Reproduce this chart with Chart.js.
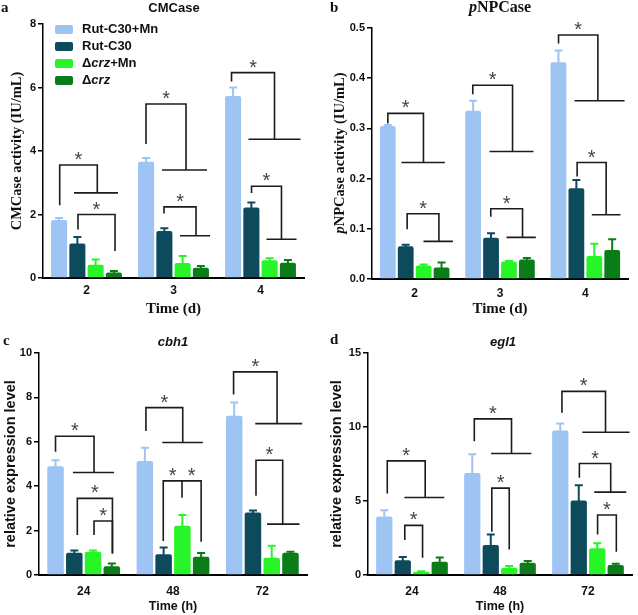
<!DOCTYPE html>
<html><head><meta charset="utf-8">
<script src="https://cdn.jsdelivr.net/npm/chart.js@4/dist/chart.umd.min.js"></script>
<style>
html,body{margin:0;padding:0;background:#fff;}
#wrap{position:relative;width:638px;height:615px;overflow:hidden;}
canvas{position:absolute;}
</style></head><body>
<div id="wrap">
<canvas id="ca" width="319" height="318" style="left:0;top:0"></canvas>
<canvas id="cb" width="319" height="318" style="left:319px;top:0"></canvas>
<canvas id="cc" width="319" height="297" style="left:0;top:318px"></canvas>
<canvas id="cd" width="319" height="297" style="left:319px;top:318px"></canvas>
</div>
<script>
// ---------- data ----------
const DAYS = ['2', '3', '4'];
const HOURS = ['24', '48', '72'];
const SERIES = ['Rut-C30+Mn', 'Rut-C30', 'Δcrz+Mn', 'Δcrz'];

// (a) CMCase activity (IU/mL)
const CMC_RUT_MN = [1.83, 3.66, 5.73];
const CMC_RUT = [1.09, 1.48, 2.22];
const CMC_CRZ_MN = [0.42, 0.47, 0.56];
const CMC_CRZ = [0.17, 0.32, 0.48];
const CMC_RUT_MN_SD = [0.06, 0.12, 0.27];
const CMC_RUT_SD = [0.20, 0.09, 0.16];
const CMC_CRZ_MN_SD = [0.16, 0.22, 0.06];
const CMC_CRZ_SD = [0.05, 0.06, 0.09];

// (b) pNPCase activity (IU/mL)
const PNP_RUT_MN = [0.305, 0.335, 0.432];
const PNP_RUT = [0.065, 0.082, 0.181];
const PNP_CRZ_MN = [0.027, 0.035, 0.046];
const PNP_CRZ = [0.023, 0.039, 0.058];
const PNP_RUT_MN_SD = [0.002, 0.020, 0.023];
const PNP_RUT_SD = [0.003, 0.009, 0.016];
const PNP_CRZ_MN_SD = [0.002, 0.001, 0.024];
const PNP_CRZ_SD = [0.010, 0.003, 0.021];

// (c) cbh1 relative expression
const CBH_RUT_MN = [4.90, 5.14, 7.17];
const CBH_RUT = [1.00, 0.93, 2.82];
const CBH_CRZ_MN = [1.05, 2.22, 0.78];
const CBH_CRZ = [0.39, 0.82, 1.00];
const CBH_RUT_MN_SD = [0.27, 0.59, 0.60];
const CBH_RUT_SD = [0.10, 0.31, 0.08];
const CBH_CRZ_MN_SD = [0.05, 0.48, 0.54];
const CBH_CRZ_SD = [0.13, 0.17, 0.05];

// (d) egl1 relative expression
const EGL_RUT_MN = [3.96, 6.90, 9.76];
const EGL_RUT = [0.99, 2.02, 5.04];
const EGL_CRZ_MN = [0.22, 0.49, 1.80];
const EGL_CRZ = [0.90, 0.83, 0.67];
const EGL_RUT_MN_SD = [0.42, 1.26, 0.47];
const EGL_RUT_SD = [0.22, 0.72, 1.03];
const EGL_CRZ_MN_SD = [0.03, 0.11, 0.34];
const EGL_CRZ_SD = [0.29, 0.11, 0.09];

// significance brackets, in data units: x = fractional category index,
// y = [left leg bottom, top, right leg bottom]
const SIG_A = [
  {x: [-0.308, 0.124], y: [2.29, 3.56, 2.68], line: [-0.144, 0.362]},
  {x: [-0.098, 0.328], y: [1.53, 2.00, 0.85]},
  {x: [0.684, 1.144], y: [4.22, 5.48, 3.40], line: [0.868, 1.385]},
  {x: [0.891, 1.259], y: [2.03, 2.24, 1.33], line: [1.075, 1.420]},
  {x: [1.667, 2.161], y: [6.19, 6.47, 4.37], line: [1.862, 2.460]},
  {x: [1.897, 2.241], y: [2.68, 2.89, 1.22], line: [2.069, 2.414]}
];
const SIG_B = [
  {x: [-0.314, 0.103], y: [0.310, 0.330, 0.232], line: [-0.155, 0.354]},
  {x: [-0.088, 0.284], y: [0.099, 0.130, 0.075], line: [0.103, 0.448]},
  {x: [0.681, 1.147], y: [0.368, 0.386, 0.254], line: [0.877, 1.393]},
  {x: [0.892, 1.264], y: [0.124, 0.140, 0.083], line: [1.076, 1.420]},
  {x: [1.686, 2.147], y: [0.469, 0.486, 0.355], line: [1.873, 2.460]},
  {x: [1.904, 2.244], y: [0.204, 0.232, 0.128], line: [2.076, 2.412]}
];
const SIG_C = [
  {x: [-0.315, 0.116], y: [5.55, 6.25, 4.62], line: [-0.120, 0.340]},
  {x: [-0.071, 0.322], y: [1.80, 3.45, 0.97]},
  {x: [0.116, 0.322], y: [1.80, 2.43, 0.97]},
  {x: [0.697, 1.109], y: [6.49, 7.54, 5.97], line: [0.880, 1.334]},
  {x: [0.891, 1.315], y: [1.53, 4.24, 1.50], mid: [1.101, 3.48]},
  {x: [1.678, 2.165], y: [8.13, 9.15, 6.82], line: [1.921, 2.446]},
  {x: [1.929, 2.228], y: [3.57, 5.17, 2.29], line: [2.053, 2.416]}
];
const SIG_D = [
  {x: [-0.281, 0.150], y: [5.51, 7.71, 5.24], line: [-0.086, 0.367]},
  {x: [-0.082, 0.120], y: [2.36, 3.35, 1.17]},
  {x: [0.708, 1.131], y: [9.04, 10.55, 8.21], line: [0.899, 1.356]},
  {x: [0.907, 1.105], y: [2.92, 5.87, 1.73]},
  {x: [1.704, 2.199], y: [10.97, 12.41, 9.65], line: [1.936, 2.472]},
  {x: [1.902, 2.258], y: [6.57, 7.53, 5.60], line: [2.071, 2.435]},
  {x: [2.109, 2.322], y: [2.74, 4.05, 1.57]}
];

// ---------- styling ----------
const COLORS = ['#9dc4f2', '#0d4a5b', '#27f527', '#0b7d18'];
const SANS = '"Liberation Sans", Arial, sans-serif';
const SERIF = '"Liberation Serif", "Times New Roman", serif';

function drawRich(ctx, parts, x, y, size, family, align, rot, color) {
  ctx.save();
  ctx.translate(x, y);
  if (rot) ctx.rotate(rot);
  ctx.textBaseline = 'middle';
  ctx.textAlign = 'left';
  ctx.fillStyle = color || '#111';
  let total = 0;
  const ws = parts.map(p => { ctx.font = `${p.s} ${size}px ${family}`; const w = ctx.measureText(p.t).width; total += w; return w; });
  let cx = align === 'center' ? -total / 2 : 0;
  parts.forEach((p, i) => { ctx.font = `${p.s} ${size}px ${family}`; ctx.fillText(p.t, cx, 0); cx += ws[i]; });
  ctx.restore();
}
function labelParts(label) {
  return label.split(/(crz)/).filter(Boolean).map(t => ({t, s: t === 'crz' ? 'italic bold' : 'bold'}));
}

function extras(o) {
  return {
    id: 'extras',
    afterDatasetsDraw(chart) {
      const ctx = chart.ctx, xs = chart.scales.x, ys = chart.scales.y;
      ctx.save();
      // error bars (upper whisker)
      chart.data.datasets.forEach((ds, di) => {
        const meta = chart.getDatasetMeta(di);
        meta.data.forEach((bar, i) => {
          const top = ys.getPixelForValue(ds.data[i] + ds.err[i]);
          ctx.strokeStyle = ds.backgroundColor;
          ctx.lineWidth = 2;
          ctx.beginPath();
          ctx.moveTo(bar.x, bar.y + 1); ctx.lineTo(bar.x, top);
          ctx.moveTo(bar.x - 4, top); ctx.lineTo(bar.x + 4, top);
          ctx.stroke();
        });
      });
      // brackets
      ctx.strokeStyle = '#1c1c1c';
      ctx.lineWidth = 1.6;
      ctx.font = `20px ${SANS}`;
      const m = ctx.measureText('*');
      const starOff = (m.actualBoundingBoxAscent - m.actualBoundingBoxDescent) / 2;
      o.sig.forEach(b => {
        const xl = xs.getPixelForValue(b.x[0]), xr = xs.getPixelForValue(b.x[1]);
        const yl = ys.getPixelForValue(b.y[0]), yt = ys.getPixelForValue(b.y[1]), yr = ys.getPixelForValue(b.y[2]);
        ctx.beginPath();
        ctx.moveTo(xl, yl); ctx.lineTo(xl, yt); ctx.lineTo(xr, yt); ctx.lineTo(xr, yr);
        if (b.line) { ctx.moveTo(xs.getPixelForValue(b.line[0]), yr); ctx.lineTo(xs.getPixelForValue(b.line[1]), yr); }
        const stars = [];
        if (b.mid) {
          const xm = xs.getPixelForValue(b.mid[0]);
          ctx.moveTo(xm, yt); ctx.lineTo(xm, ys.getPixelForValue(b.mid[1]));
          stars.push((xl + xm) / 2, (xm + xr) / 2);
        } else stars.push((xl + xr) / 2);
        ctx.stroke();
        ctx.fillStyle = '#444';
        ctx.textAlign = 'center';
        ctx.textBaseline = 'alphabetic';
        stars.forEach(sx => ctx.fillText('*', sx, yt - 9 + starOff));
      });
      ctx.restore();
    },
    afterDraw(chart) {
      const ctx = chart.ctx;
      drawRich(ctx, [{t: o.letter, s: 'bold'}], o.letterPos[0], o.letterPos[1], 15, SERIF, 'left');
      drawRich(ctx, o.title, o.titlePos[0], o.titlePos[1], o.titleSize, o.titleFamily, 'center');
      if (o.richY) drawRich(ctx, o.richY.parts, o.richY.pos[0], o.richY.pos[1], 14.5, SERIF, 'center', -Math.PI / 2);
      if (o.legend) {
        SERIES.forEach((lab, i) => {
          const cy = 29.5 + i * 17;
          ctx.fillStyle = COLORS[i];
          ctx.beginPath();
          ctx.roundRect(55, cy - 4.5, 18, 9, 2);
          ctx.fill();
          drawRich(ctx, labelParts(lab), 82, cy, 13, SANS, 'left');
        });
      }
    }
  };
}

function build(id, o) {
  const datasets = o.values.map((vals, i) => ({
    label: SERIES[i], data: vals, err: o.errors[i],
    backgroundColor: COLORS[i], borderWidth: 0,
    borderRadius: {topLeft: 2, topRight: 2, bottomLeft: 0, bottomRight: 0},
    borderSkipped: 'bottom',
    categoryPercentage: 0.84, barPercentage: 0.88
  }));
  return new Chart(document.getElementById(id), {
    type: 'bar',
    data: {labels: o.labels, datasets},
    options: {
      responsive: false, animation: false,
      layout: {padding: {left: 0, top: o.padTop, right: o.padRight, bottom: 0}},
      plugins: {legend: {display: false}, tooltip: {enabled: false}, title: {display: false}},
      scales: {
        x: {
          grid: {display: false, drawTicks: false, tickLength: 0},
          border: {display: true, color: '#000', width: 2},
          ticks: {color: '#111', font: {family: SANS, size: 12, weight: 'bold'}, padding: o.xTickPad},
          title: {display: true, text: o.xTitle, color: '#111', font: o.xTitleFont, padding: {top: 0, bottom: o.xTitlePad}},
          afterFit: s => { s.height = o.xH; s.paddingLeft = 0; s.paddingRight = 0; }
        },
        y: {
          min: 0, max: o.yMax,
          ticks: {stepSize: o.yStep, color: '#111', font: {family: SANS, size: 11, weight: 'bold'}, padding: 2, callback: o.fmt},
          grid: {drawOnChartArea: false, drawTicks: true, tickLength: 5, color: '#000', lineWidth: 1.5},
          border: {display: true, color: '#000', width: 1.5},
          title: o.yTitle ? {display: true, text: o.yTitle, color: '#111', font: o.yTitleFont, padding: {top: o.yTitlePad, bottom: 0}} : {display: false},
          afterFit: s => { s.width = o.yW; s.paddingTop = 0; s.paddingBottom = 0; }
        }
      }
    },
    plugins: [extras(o)]
  });
}

build('ca', {
  labels: DAYS,
  values: [CMC_RUT_MN, CMC_RUT, CMC_CRZ_MN, CMC_CRZ],
  errors: [CMC_RUT_MN_SD, CMC_RUT_SD, CMC_CRZ_MN_SD, CMC_CRZ_SD],
  sig: SIG_A, yMax: 8, yStep: 2, fmt: v => String(v),
  padTop: 24, padRight: 15, xH: 40, yW: 43, xTickPad: 5,
  xTitle: 'Time (d)', xTitleFont: {family: SERIF, size: 15, weight: 'bold'}, xTitlePad: 0,
  yTitle: 'CMCase activity (IU/mL)', yTitleFont: {family: SERIF, size: 14.5, weight: 'bold'}, yTitlePad: 8.3,
  letter: 'a', letterPos: [1, 8],
  title: [{t: 'CMCase', s: 'bold'}], titlePos: [174, 8], titleSize: 13, titleFamily: SANS,
  legend: true
});
build('cb', {
  labels: DAYS,
  values: [PNP_RUT_MN, PNP_RUT, PNP_CRZ_MN, PNP_CRZ],
  errors: [PNP_RUT_MN_SD, PNP_RUT_SD, PNP_CRZ_MN_SD, PNP_CRZ_SD],
  sig: SIG_B, yMax: 0.5, yStep: 0.1, fmt: v => v.toFixed(1),
  padTop: 28, padRight: 10, xH: 39, yW: 53, xTickPad: 7,
  xTitle: 'Time (d)', xTitleFont: {family: SERIF, size: 15, weight: 'bold'}, xTitlePad: 0,
  yTitle: null,
  richY: {parts: [{t: 'p', s: 'italic bold'}, {t: 'NPCase activity (IU/mL)', s: 'bold'}], pos: [21, 153]},
  letter: 'b', letterPos: [11, 8],
  title: [{t: 'p', s: 'italic bold'}, {t: 'NPCase', s: 'bold'}], titlePos: [181, 8], titleSize: 16, titleFamily: SERIF
});
build('cc', {
  labels: HOURS,
  values: [CBH_RUT_MN, CBH_RUT, CBH_CRZ_MN, CBH_CRZ],
  errors: [CBH_RUT_MN_SD, CBH_RUT_SD, CBH_CRZ_MN_SD, CBH_CRZ_SD],
  sig: SIG_C, yMax: 10, yStep: 2, fmt: v => String(v),
  padTop: 35, padRight: 12, xH: 40, yW: 39, xTickPad: 9,
  xTitle: 'Time (h)', xTitleFont: {family: SANS, size: 12.5, weight: 'bold'}, xTitlePad: 0.5,
  yTitle: 'relative expression level', yTitleFont: {family: SANS, size: 14.5, weight: 'bold'}, yTitlePad: 2,
  letter: 'c', letterPos: [3, 23],
  title: [{t: 'cbh1', s: 'italic bold'}], titlePos: [173, 24], titleSize: 13, titleFamily: SANS
});
build('cd', {
  labels: HOURS,
  values: [EGL_RUT_MN, EGL_RUT, EGL_CRZ_MN, EGL_CRZ],
  errors: [EGL_RUT_MN_SD, EGL_RUT_SD, EGL_CRZ_MN_SD, EGL_CRZ_SD],
  sig: SIG_D, yMax: 15, yStep: 5, fmt: v => String(v),
  padTop: 35, padRight: 6, xH: 40, yW: 49, xTickPad: 9,
  xTitle: 'Time (h)', xTitleFont: {family: SANS, size: 12.5, weight: 'bold'}, xTitlePad: 0.5,
  yTitle: 'relative expression level', yTitleFont: {family: SANS, size: 14.5, weight: 'bold'}, yTitlePad: 9.3,
  letter: 'd', letterPos: [11, 22],
  title: [{t: 'egl1', s: 'italic bold'}], titlePos: [184, 24], titleSize: 13, titleFamily: SANS
});
</script>
</body></html>
